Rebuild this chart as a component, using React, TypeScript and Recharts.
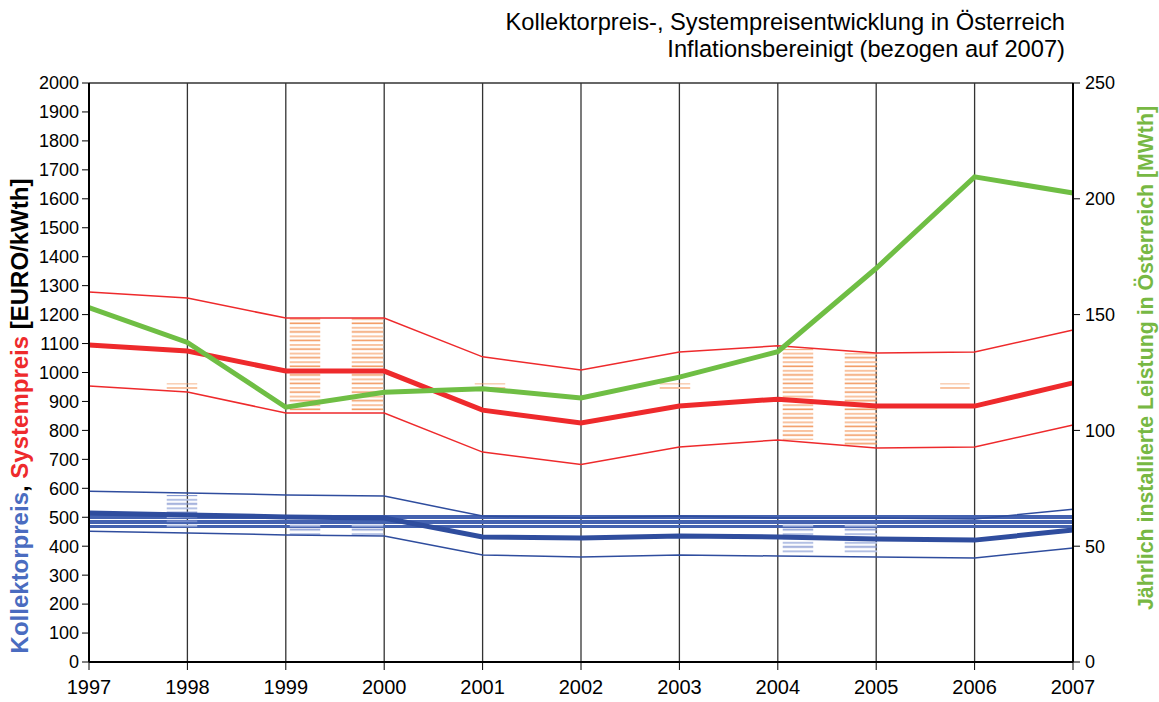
import {
  CartesianGrid,
  Line,
  LineChart,
  ReferenceArea,
  XAxis,
  YAxis
} from 'recharts'

const years = [1997, 1998, 1999, 2000, 2001, 2002, 2003, 2004, 2005, 2006, 2007]

// Systempreis [EURO/kWth]
const systemMean = [1095, 1074, 1005, 1005, 870, 826, 884, 908, 884, 884, 964]
const systemHigh = [1278, 1257, 1188, 1188, 1054, 1009, 1071, 1092, 1067, 1071, 1147]
const systemLow = [953, 933, 860, 860, 725, 682, 743, 767, 739, 743, 819]

// Kollektorpreis [EURO/kWth]
const kollMean = [515, 508, 501, 497, 432, 428, 435, 432, 425, 421, 456]
const kollHigh = [590, 584, 577, 573, 504, 497, 504, 497, 497, 494, 528]
const kollLow = [452, 446, 439, 435, 370, 363, 370, 366, 363, 359, 394]

// Jährlich installierte Leistung [MWth]
const leistung = [153, 138, 110, 116.5, 118, 114, 123, 134, 170, 209.5, 202.5]

const leftTicks = [0, 100, 200, 300, 400, 500, 600, 700, 800, 900, 1000, 1100, 1200, 1300, 1400, 1500, 1600, 1700, 1800, 1900, 2000]
const rightTicks = [0, 50, 100, 150, 200, 250]

// hatched blocks [x1, x2, y1, y2] in years / EURO
const orangeBlocks = [
  [1997.79, 1998.1, 943, 962],
  [1999.04, 1999.35, 865, 1190],
  [1999.67, 1999.99, 865, 1190],
  [2000.92, 2001.23, 943, 962],
  [2002.8, 2003.11, 943, 962],
  [2004.05, 2004.36, 767, 1081],
  [2004.68, 2005.01, 750, 1067],
  [2005.65, 2005.95, 943, 962]
]
const blueBlocks = [
  [1997.79, 1998.1, 463, 577],
  [1999.04, 1999.35, 439, 480],
  [1999.67, 1999.99, 439, 480],
  [2004.05, 2004.36, 377, 480],
  [2004.68, 2005.01, 377, 480]
]
const blueBand = [1997, 2007, 463, 508]

const rows = years.map((year, i) => ({
  year,
  systemMean: systemMean[i],
  systemHigh: systemHigh[i],
  systemLow: systemLow[i],
  kollMean: kollMean[i],
  kollHigh: kollHigh[i],
  kollLow: kollLow[i],
  leistung: leistung[i]
}))

const font = 'Liberation Sans, Arial, sans-serif'
const RED = '#EE2A2C'
const BLUE = '#2F4D9E'
const GREEN = '#6FBE44'

export default function App() {
  return (
    <div style={{ position: 'absolute', left: 0, top: 0, width: 1159, height: 702, background: '#fff', fontFamily: font }}>
      <LineChart
        width={1159}
        height={702}
        data={rows}
        margin={{ top: 83, right: 26, bottom: 10, left: 29 }}
      >
        <defs>
          <pattern id='orangeHatch' patternUnits='userSpaceOnUse' width='10' height='8.6'>
            <rect x='0' y='0' width='10' height='2' fill='#F9C3A0' />
            <rect x='0' y='4.3' width='10' height='1.6' fill='#F29A62' />
          </pattern>
          <pattern id='blueHatch' patternUnits='userSpaceOnUse' width='10' height='8.6'>
            <rect x='0' y='0' width='10' height='2' fill='#B3C0E4' />
            <rect x='0' y='4.3' width='10' height='1.6' fill='#8396CF' />
          </pattern>
          <pattern id='bandHatch' patternUnits='userSpaceOnUse' width='10' height='5'>
            <rect x='0' y='0' width='10' height='4' fill='#4462B0' />
          </pattern>
        </defs>
        <CartesianGrid stroke='#333' strokeWidth={1.3} />
        <XAxis
          dataKey='year'
          type='number'
          domain={[1997, 2007]}
          ticks={years}
          height={30}
          tickSize={8}
          tickMargin={10}
          tick={{ fill: '#000', fontSize: 20, fontFamily: font }}
          axisLine={{ stroke: '#000', strokeWidth: 2 }}
          tickLine={{ stroke: '#000' }}
        />
        <YAxis
          yAxisId='left'
          domain={[0, 2000]}
          ticks={leftTicks}
          width={60}
          tickSize={7}
          tickMargin={3}
          interval={0}
          tick={{ fill: '#000', fontSize: 18, fontFamily: font }}
          axisLine={{ stroke: '#000', strokeWidth: 2 }}
          tickLine={{ stroke: '#000' }}
        />
        <YAxis
          yAxisId='right'
          orientation='right'
          domain={[0, 250]}
          ticks={rightTicks}
          width={60}
          tickSize={7}
          tickMargin={5}
          interval={0}
          tick={{ fill: '#000', fontSize: 18, fontFamily: font }}
          axisLine={{ stroke: '#000', strokeWidth: 2 }}
          tickLine={{ stroke: '#000' }}
        />
        <ReferenceArea
          yAxisId='left'
          x1={blueBand[0]}
          x2={blueBand[1]}
          y1={blueBand[2]}
          y2={blueBand[3]}
          fill='url(#bandHatch)'
          fillOpacity={1}
          stroke='none'
        />
        {orangeBlocks.map((b, i) => (
          <ReferenceArea
            key={'o' + i}
            yAxisId='left'
            x1={b[0]}
            x2={b[1]}
            y1={b[2]}
            y2={b[3]}
            fill='url(#orangeHatch)'
            fillOpacity={1}
            stroke='none'
          />
        ))}
        {blueBlocks.map((b, i) => (
          <ReferenceArea
            key={'b' + i}
            yAxisId='left'
            x1={b[0]}
            x2={b[1]}
            y1={b[2]}
            y2={b[3]}
            fill='url(#blueHatch)'
            fillOpacity={1}
            stroke='none'
          />
        ))}
        <Line yAxisId='left' dataKey='systemHigh' stroke={RED} strokeWidth={1.5} dot={false} isAnimationActive={false} />
        <Line yAxisId='left' dataKey='systemLow' stroke={RED} strokeWidth={1.5} dot={false} isAnimationActive={false} />
        <Line yAxisId='left' dataKey='systemMean' stroke={RED} strokeWidth={5} dot={false} isAnimationActive={false} />
        <Line yAxisId='left' dataKey='kollHigh' stroke={BLUE} strokeWidth={1.5} dot={false} isAnimationActive={false} />
        <Line yAxisId='left' dataKey='kollLow' stroke={BLUE} strokeWidth={1.5} dot={false} isAnimationActive={false} />
        <Line yAxisId='left' dataKey='kollMean' stroke={BLUE} strokeWidth={5} dot={false} isAnimationActive={false} />
        <Line yAxisId='right' dataKey='leistung' stroke={GREEN} strokeWidth={5} dot={false} isAnimationActive={false} />
      </LineChart>
      <svg
        width={1159}
        height={702}
        style={{ position: 'absolute', left: 0, top: 0, pointerEvents: 'none' }}
      >
        <text x={1065} y={30} textAnchor='end' fontSize={23.7} fontFamily={font} fill='#000'>
          Kollektorpreis-, Systempreisentwicklung in Österreich
        </text>
        <text x={1065} y={57} textAnchor='end' fontSize={23.7} fontFamily={font} fill='#000'>
          Inflationsbereinigt (bezogen auf 2007)
        </text>
        <text
          transform='translate(28, 416) rotate(-90)'
          textAnchor='middle'
          fontSize={24}
          fontWeight='bold'
          fontFamily={font}
        >
          <tspan fill='#4A6CC0'>Kollektorpreis</tspan>
          <tspan fill='#000'>, </tspan>
          <tspan fill={RED}>Systempreis</tspan>
          <tspan fill='#000'> [EURO/kWth]</tspan>
        </text>
        <text
          transform='translate(1153, 358) rotate(-90)'
          textAnchor='middle'
          fontSize={21.3}
          fontWeight='bold'
          fontFamily={font}
          fill='#77B843'
        >
          Jährlich installierte Leistung in Österreich [MWth]
        </text>
      </svg>
    </div>
  )
}
